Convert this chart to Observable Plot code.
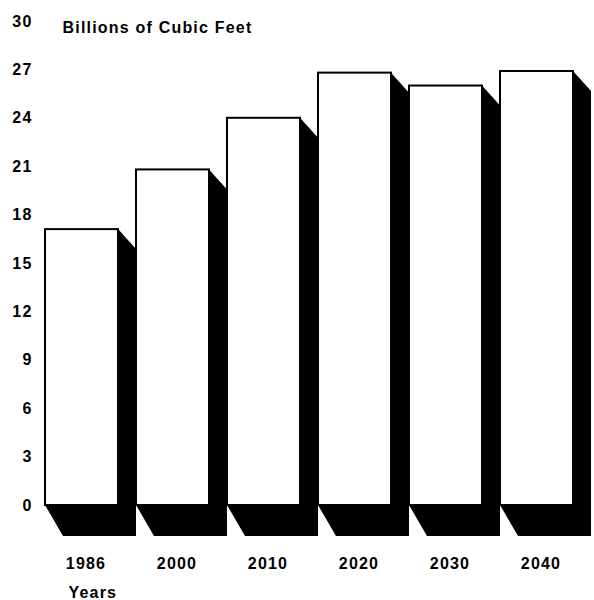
<!DOCTYPE html>
<html>
<head>
<meta charset="utf-8">
<script src="https://cdn.jsdelivr.net/npm/d3@7"></script>
<script src="https://cdn.jsdelivr.net/npm/@observablehq/plot@0.6"></script>
<style>
  html, body { margin: 0; padding: 0; background: #fff; }
  #chart svg { display: block; }
</style>
</head>
<body>
<div id="chart"></div>
<script>
const years = ["1986", "2000", "2010", "2020", "2030", "2040"];
const values = [17.1, 20.8, 24.0, 26.8, 26.0, 26.9];
const yTicks = [0, 3, 6, 9, 12, 15, 18, 21, 24, 27, 30];
const yTitle = "Billions of Cubic Feet";
const xTitle = "Years";

const data = years.map((year, i) => ({year, value: values[i]}));

// 3D black shadow behind each bar, positioned through Plot's scales
const shadow = (index, scales) => {
  const g = d3.create("svg:g");
  const x = scales.x, y = scales.y;
  const bw = x.bandwidth();
  const y0 = y(0);
  for (const d of data) {
    const x0 = x(d.year), x1 = x0 + bw, yt = y(d.value);
    g.append("path")
      .attr("d", `M${x1},${yt}L${x1 + 18},${yt + 20}L${x1 + 18},${y0 + 31}L${x0 + 18},${y0 + 31}L${x0},${y0}L${x1},${y0}Z`)
      .attr("fill", "black");
  }
  return g.node();
};

const chart = Plot.plot({
  width: 594,
  height: 600,
  marginLeft: 44,
  marginRight: 21,
  marginTop: 21,
  marginBottom: 95,
  style: {fontFamily: "'Liberation Sans', Arial, sans-serif", fontSize: "16px", fontWeight: "bold", letterSpacing: "1.2px", color: "#000", background: "#fff"},
  x: {domain: years, paddingInner: 0.2, paddingOuter: 0},
  y: {domain: [0, 30]},
  marks: [
    shadow,
    Plot.barY(data, {x: "year", y: "value", fill: "white", stroke: "black", strokeWidth: 2}),
    Plot.axisY({ticks: yTicks, tickSize: 0, tickPadding: 12, label: null, tickFormat: d => String(d)}),
    Plot.axisX({tickSize: 0, tickPadding: 52, dx: 4, label: null}),
    Plot.text([yTitle], {frameAnchor: "top-left", dx: 18, textAnchor: "start", fontSize: 16, fontWeight: "bold"}),
    Plot.text([xTitle], {frameAnchor: "bottom-left", dx: 24, dy: 92, textAnchor: "start", fontSize: 16, fontWeight: "bold"})
  ]
});
document.getElementById("chart").appendChild(chart);
</script>
</body>
</html>
